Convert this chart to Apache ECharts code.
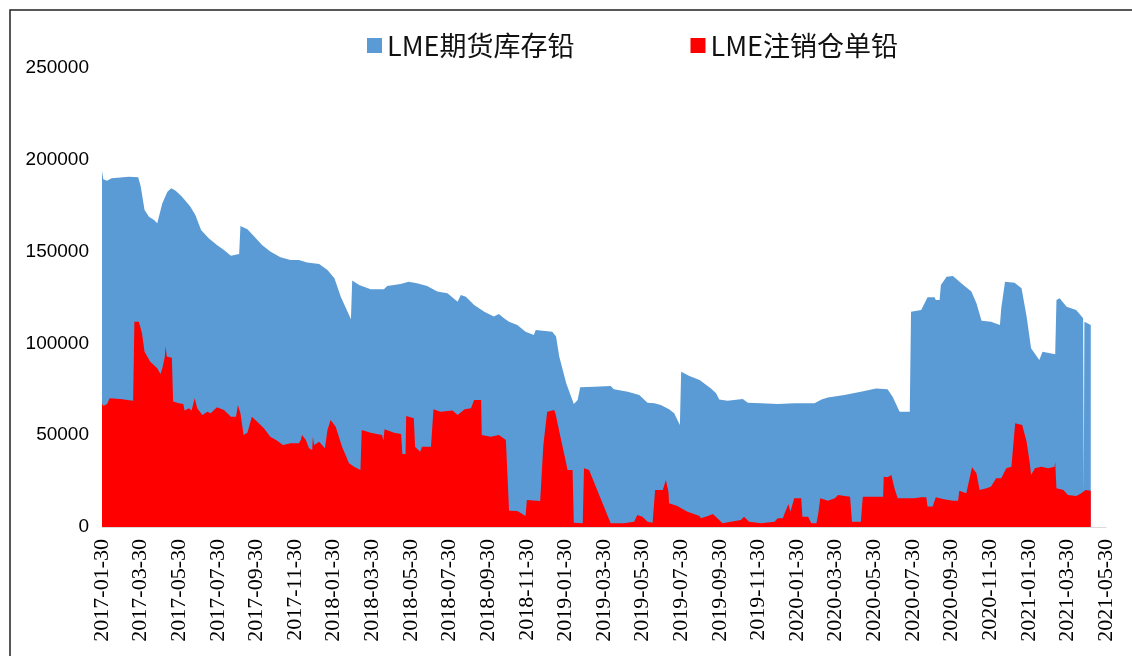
<!DOCTYPE html>
<html>
<head>
<meta charset="utf-8">
<script src="https://cdn.jsdelivr.net/npm/echarts@6/dist/echarts.min.js"></script>
<style>
  html, body { margin: 0; padding: 0; background: #fff; }
  #main { width: 1132px; height: 656px; }
</style>
</head>
<body>
<div id="main"></div>
<script>
// 横轴刻度
var tickLabels = [
  '2017-01-30', '2017-03-30', '2017-05-30', '2017-07-30', '2017-09-30', '2017-11-30',
  '2018-01-30', '2018-03-30', '2018-05-30', '2018-07-30', '2018-09-30', '2018-11-30',
  '2019-01-30', '2019-03-30', '2019-05-30', '2019-07-30', '2019-09-30', '2019-11-30',
  '2020-01-30', '2020-03-30', '2020-05-30', '2020-07-30', '2020-09-30', '2020-11-30',
  '2021-01-30', '2021-03-30', '2021-05-30'
];
var yTicks = [0, 50000, 100000, 150000, 200000, 250000];
var seriesNames = ['LME期货库存铅', 'LME注销仓单铅'];

// LME期货库存铅
var stockDates = [
  '2017-01-30', '2017-02-01', '2017-02-07', '2017-02-14', '2017-02-28', '2017-03-13', '2017-03-28', '2017-04-01',
  '2017-04-07', '2017-04-14', '2017-04-22', '2017-04-27', '2017-05-05', '2017-05-13', '2017-05-19', '2017-05-26',
  '2017-06-05', '2017-06-18', '2017-06-26', '2017-07-05', '2017-07-17', '2017-07-30', '2017-08-10', '2017-08-21',
  '2017-09-03', '2017-09-05', '2017-09-16', '2017-09-26', '2017-10-09', '2017-10-22', '2017-11-07', '2017-11-23',
  '2017-12-06', '2017-12-19', '2018-01-07', '2018-01-09', '2018-01-20', '2018-01-31', '2018-02-10', '2018-02-26',
  '2018-02-28', '2018-03-11', '2018-03-29', '2018-04-19', '2018-04-24', '2018-05-15', '2018-05-28', '2018-06-10',
  '2018-06-26', '2018-07-12', '2018-07-28', '2018-08-13', '2018-08-18', '2018-08-26', '2018-09-08', '2018-09-24',
  '2018-10-09', '2018-10-17', '2018-10-25', '2018-11-02', '2018-11-15', '2018-11-28', '2018-12-11', '2018-12-14',
  '2019-01-09', '2019-01-15', '2019-01-20', '2019-01-31', '2019-02-12', '2019-02-18', '2019-02-22', '2019-03-16',
  '2019-04-11', '2019-04-16', '2019-05-08', '2019-05-26', '2019-06-08', '2019-06-19', '2019-06-29', '2019-07-12',
  '2019-07-20', '2019-07-29', '2019-07-31', '2019-08-13', '2019-08-29', '2019-09-16', '2019-09-24', '2019-09-29',
  '2019-10-12', '2019-11-05', '2019-11-13', '2019-12-04', '2019-12-30', '2020-01-25', '2020-02-26', '2020-03-08',
  '2020-03-18', '2020-04-13', '2020-05-09', '2020-06-02', '2020-06-20', '2020-06-28', '2020-07-09', '2020-07-25',
  '2020-07-27', '2020-08-12', '2020-08-22', '2020-09-02', '2020-09-04', '2020-09-10', '2020-09-12', '2020-09-21',
  '2020-10-01', '2020-10-14', '2020-10-30', '2020-11-07', '2020-11-15', '2020-11-30', '2020-12-14', '2020-12-16',
  '2020-12-22', '2021-01-06', '2021-01-17', '2021-01-25', '2021-02-01', '2021-02-14', '2021-02-19', '2021-03-11',
  '2021-03-13', '2021-03-18', '2021-03-29', '2021-04-13', '2021-04-24', '2021-04-25', '2021-04-26', '2021-05-06'
];
var stockValues = [
  194000, 189400, 188600, 189900, 190300, 190800, 190500, 185400,
  172700, 169000, 167200, 165400, 176300, 182600, 184500, 183200,
  179900, 174500, 169900, 161800, 157300, 153600, 150900, 147800,
  148700, 164000, 162200, 158500, 153600, 150000, 146900, 145400,
  145400, 144000, 143300, 143600, 140000, 135500, 125400, 113100,
  134200, 131800, 129500, 129500, 131300, 132400, 133600, 132700,
  131300, 128200, 127300, 122700, 126400, 125400, 120900, 117300,
  114600, 116000, 113700, 111800, 110000, 106400, 104600, 107300,
  106400, 103700, 92800, 78300, 67000, 69200, 76100, 76400,
  76800, 75000, 73700, 71900, 67700, 67400, 66500, 64100,
  61900, 55600, 84600, 82200, 80100, 75500, 72800, 69500,
  68800, 69700, 67700, 67400, 67000, 67400, 67400, 69500,
  70600, 71900, 73700, 75500, 75000, 71000, 62800, 62800,
  117300, 118200, 125100, 125100, 123600, 123600, 131800, 136300,
  136700, 132700, 128200, 121900, 112400, 111800, 110000, 119100,
  133600, 133100, 130000, 114600, 97300, 91000, 95500, 94100,
  123600, 124600, 120000, 118200, 113700, 19000, 111800, 110000
];

// LME注销仓单铅
var cancelDates = [
  '2017-01-30', '2017-02-01', '2017-02-07', '2017-02-11', '2017-02-28', '2017-03-20', '2017-03-22', '2017-03-29',
  '2017-04-03', '2017-04-07', '2017-04-16', '2017-04-27', '2017-05-02', '2017-05-05', '2017-05-09', '2017-05-10',
  '2017-05-12', '2017-05-20', '2017-05-22', '2017-05-31', '2017-06-07', '2017-06-09', '2017-06-16', '2017-06-20',
  '2017-06-25', '2017-06-29', '2017-07-07', '2017-07-15', '2017-07-20', '2017-07-30', '2017-08-10', '2017-08-21',
  '2017-08-29', '2017-09-01', '2017-09-05', '2017-09-10', '2017-09-16', '2017-09-23', '2017-10-01', '2017-10-12',
  '2017-10-22', '2017-11-02', '2017-11-11', '2017-11-23', '2017-12-06', '2017-12-09', '2017-12-11', '2017-12-17',
  '2017-12-22', '2017-12-27', '2017-12-28', '2017-12-30', '2018-01-07', '2018-01-16', '2018-01-20', '2018-01-25',
  '2018-02-02', '2018-02-12', '2018-02-23', '2018-03-03', '2018-03-13', '2018-03-15', '2018-03-29', '2018-04-16',
  '2018-04-18', '2018-04-20', '2018-05-05', '2018-05-16', '2018-05-18', '2018-05-23', '2018-05-24', '2018-06-05',
  '2018-06-07', '2018-06-15', '2018-06-18', '2018-07-02', '2018-07-06', '2018-07-17', '2018-08-05', '2018-08-13',
  '2018-08-24', '2018-09-03', '2018-09-08', '2018-09-19', '2018-09-20', '2018-10-04', '2018-10-17', '2018-10-28',
  '2018-11-02', '2018-11-15', '2018-11-21', '2018-11-28', '2018-11-30', '2018-12-21', '2018-12-26', '2019-01-01',
  '2019-01-12', '2019-01-14', '2019-01-23', '2019-01-31', '2019-02-02', '2019-02-10', '2019-02-12', '2019-02-26',
  '2019-02-28', '2019-03-08', '2019-04-11', '2019-05-02', '2019-05-18', '2019-05-23', '2019-05-31', '2019-06-08',
  '2019-06-16', '2019-06-20', '2019-07-02', '2019-07-07', '2019-07-11', '2019-07-12', '2019-07-25', '2019-07-31',
  '2019-08-10', '2019-08-29', '2019-08-31', '2019-09-11', '2019-09-19', '2019-09-26', '2019-10-04', '2019-10-17',
  '2019-11-02', '2019-11-07', '2019-11-15', '2019-12-04', '2019-12-25', '2019-12-30', '2020-01-07', '2020-01-10',
  '2020-01-16', '2020-01-19', '2020-01-25', '2020-02-05', '2020-02-07', '2020-02-16', '2020-02-21', '2020-02-29',
  '2020-03-03', '2020-03-06', '2020-03-18', '2020-03-29', '2020-04-03', '2020-04-22', '2020-04-25', '2020-05-09',
  '2020-05-12', '2020-06-13', '2020-06-14', '2020-06-20', '2020-06-26', '2020-07-01', '2020-07-06', '2020-08-01',
  '2020-08-12', '2020-08-20', '2020-08-22', '2020-08-30', '2020-09-04', '2020-09-17', '2020-10-01', '2020-10-09',
  '2020-10-11', '2020-10-22', '2020-10-31', '2020-11-07', '2020-11-12', '2020-11-23', '2020-11-30', '2020-12-08',
  '2020-12-16', '2020-12-24', '2021-01-01', '2021-01-07', '2021-01-18', '2021-01-25', '2021-01-30', '2021-02-01',
  '2021-02-07', '2021-02-17', '2021-02-28', '2021-03-10', '2021-03-11', '2021-03-13', '2021-03-24', '2021-03-31',
  '2021-04-13', '2021-04-21', '2021-04-28', '2021-05-06'
];
var cancelValues = [
  67400, 65900, 67000, 70100, 69700, 68800, 111800, 111800,
  105500, 95500, 90000, 86400, 83300, 86400, 92800, 98600,
  92800, 92200, 68300, 67400, 67000, 63400, 64700, 63400,
  70100, 64700, 61000, 62800, 61900, 65200, 63700, 60100,
  60100, 66500, 61900, 50100, 51400, 60100, 57400, 53800,
  49200, 47000, 44700, 45600, 45600, 47400, 50100, 47400,
  42900, 41900, 49200, 44700, 46500, 42900, 52800, 58300,
  54600, 43700, 34700, 32800, 31000, 52800, 51400, 50100,
  47000, 53200, 51400, 50700, 39800, 39800, 60500, 59200,
  43700, 41000, 43700, 43700, 64100, 62800, 63400, 61000,
  64100, 64700, 69200, 69200, 50100, 49200, 50100, 47400,
  8900, 8700, 7500, 6000, 14700, 14200, 44700, 62800,
  63700, 61900, 47400, 34700, 31000, 31000, 2300, 2000,
  32000, 31000, 2000, 2000, 2900, 6500, 5600, 2900,
  2300, 20200, 20200, 25600, 19200, 12900, 11400, 10200,
  8300, 6000, 4700, 6000, 7100, 4700, 2000, 2900,
  3800, 5600, 2900, 2000, 2900, 4700, 4700, 7500,
  12500, 8300, 15600, 15600, 5600, 5600, 2000, 2000,
  7500, 15600, 14300, 15600, 17400, 16500, 2900, 2900,
  16500, 16500, 27400, 27100, 28300, 21000, 15600, 15600,
  16200, 16200, 11100, 11100, 16200, 15100, 14300, 14300,
  19800, 18400, 32500, 29300, 20200, 21100, 22000, 26500,
  26500, 32000, 32800, 56500, 55600, 46500, 34700, 28300,
  32000, 32800, 32000, 32800, 35600, 21100, 20200, 17400,
  16900, 18400, 20200, 19800
];

var DAY = 86400000;
var t0 = Date.parse(tickLabels[0]);
var tEnd = Date.parse(tickLabels[tickLabels.length - 1]);
var xMax = Math.round((tEnd - t0) / DAY);
var xStep = xMax / (tickLabels.length - 1);

function toPoints(dates, values) {
  var arr = [];
  for (var i = 0; i < dates.length; i++) {
    arr.push([Math.round((Date.parse(dates[i]) - t0) / DAY), values[i]]);
  }
  return arr;
}

var chart = echarts.init(document.getElementById('main'));

var option = {
  backgroundColor: '#ffffff',
  animation: false,
  graphic: [{
    type: 'rect',
    shape: { x: 10, y: 10, width: 1200, height: 700 },
    style: { fill: 'none', stroke: '#222', lineWidth: 1.5 },
    silent: true
  }],
  legend: {
    left: 362,
    top: 27,
    itemGap: 116,
    itemWidth: 15,
    itemHeight: 15,
    icon: 'rect',
    textStyle: {
      fontFamily: 'Noto Sans CJK SC',
      fontSize: 27,
      color: '#111'
    },
    data: seriesNames
  },
  grid: {
    left: 102,
    right: 26,
    top: 68,
    bottom: 129,
    containLabel: false
  },
  xAxis: {
    type: 'value',
    min: 0,
    max: xMax,
    interval: xStep,
    axisLine: { show: true, lineStyle: { color: '#d9d9d9', width: 1 } },
    axisTick: { show: false },
    splitLine: { show: false },
    axisLabel: {
      rotate: 90,
      margin: 12,
      fontFamily: 'Liberation Serif',
      fontSize: 22,
      color: '#000',
      formatter: function(v) {
        var k = Math.round(v / xStep);
        return tickLabels[k] || '';
      }
    }
  },
  yAxis: {
    type: 'value',
    min: yTicks[0],
    max: yTicks[yTicks.length - 1],
    interval: yTicks[1] - yTicks[0],
    axisLine: { show: false },
    axisTick: { show: false },
    splitLine: { show: false },
    axisLabel: {
      margin: 13,
      fontFamily: 'Liberation Sans',
      fontSize: 19,
      color: '#000',
      formatter: function(v) {
        return String(v);
      }
    }
  },
  series: [{
    name: seriesNames[0],
    type: 'line',
    showSymbol: false,
    symbol: 'none',
    lineStyle: { width: 0 },
    itemStyle: { color: '#5b9bd5' },
    areaStyle: { color: '#5b9bd5', opacity: 1 },
    data: toPoints(stockDates, stockValues)
  }, {
    name: seriesNames[1],
    type: 'line',
    showSymbol: false,
    symbol: 'none',
    lineStyle: { width: 0 },
    itemStyle: { color: '#ff0000' },
    areaStyle: { color: '#ff0000', opacity: 1 },
    data: toPoints(cancelDates, cancelValues)
  }]
};

chart.setOption(option);
</script>
</body>
</html>
